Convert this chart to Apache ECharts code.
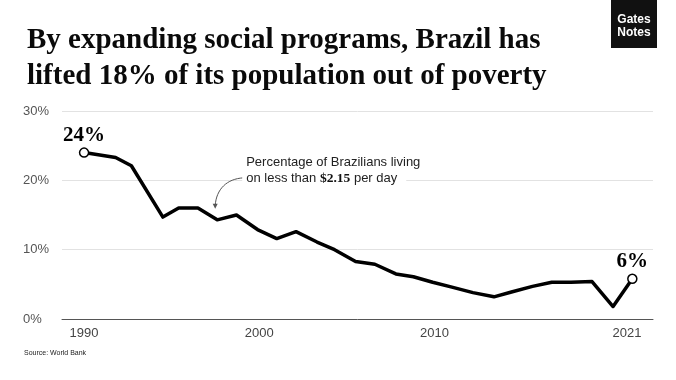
<!DOCTYPE html>
<html>
<head>
<meta charset="utf-8">
<script src="https://cdn.jsdelivr.net/npm/echarts@6/dist/echarts.min.js"></script>
<style>
html,body{margin:0;padding:0;background:#fff;}
#chart{width:676px;height:380px;}
</style>
</head>
<body>
<div id="chart"></div>
<script>
// Observation years (World Bank survey years)
const years = [1990,1992,1993,1995,1996,1997,1998,1999,2001,2002,2003,2004,2005,2006,2007,2008,2009,2011,2012,2013,2014,2015,2016,2017,2018,2019,2020,2021];
const yearPos = [1990.0,1991.8,1992.7,1994.5,1995.4,1996.5,1997.6,1998.7,1999.9,2001.0,2002.1,2003.3,2004.3,2005.5,2006.6,2007.8,2008.8,2009.9,2011.0,2012.2,2013.4,2014.4,2015.6,2016.7,2017.8,2019.0,2020.2,2021.3];
// Share of Brazilians living on less than $2.15 per day (%)
const values = [24.0,23.3,22.1,14.7,16.0,16.0,14.3,15.0,12.9,11.6,12.6,11.1,10.0,8.3,7.9,6.5,6.1,5.3,4.6,3.8,3.2,3.9,4.7,5.3,5.3,5.4,1.8,5.8];
const xTickLabels = [1990, 2000, 2010, 2021];
const yTicks = [0, 10, 20, 30];

const chart = echarts.init(document.getElementById('chart'), null, {renderer:'canvas'});
const last = values.length - 1;
const lineData = yearPos.map((x, i) => [x, values[i]]);
const endData = [[yearPos[0], values[0]], [yearPos[last], values[last]]];

const sans = "'Liberation Sans', Arial, Helvetica, sans-serif";
const serif = "'Liberation Serif', 'Times New Roman', serif";

chart.setOption({
  animation: false,
  backgroundColor: '#fff',
  title: {
    text: 'By expanding social programs, Brazil has\nlifted 18% of its population out of poverty',
    left: 22, top: 18,
    textStyle: {fontFamily: serif, fontWeight: 'bold', fontSize: 29, lineHeight: 36, color: '#0a0a0a'}
  },
  grid: {left: 62, right: 23, top: 111, bottom: 61},
  xAxis: {
    type: 'value', min: 1988.74, max: 2022.48,
    splitLine: {show: false},
    axisLine: {show: true, onZero: true, lineStyle: {color: '#555', width: 1}},
    axisTick: {show: false},
    axisLabel: {customValues: xTickLabels, formatter: v => String(v), color: '#444', fontSize: 13, margin: 8, fontFamily: sans}
  },
  yAxis: {
    type: 'value', min: yTicks[0], max: yTicks[yTicks.length-1], interval: 10,
    axisLine: {show: false}, axisTick: {show: false},
    splitLine: {lineStyle: {color: '#e2e2e2', width: 1}},
    axisLabel: {formatter: '{value}%', align: 'left', margin: 39, color: '#555', fontSize: 13, fontFamily: sans}
  },
  series: [
    {
      type: 'line', data: lineData, symbol: 'none',
      lineStyle: {color: '#000', width: 3.5, join: 'round'},
      z: 2
    },
    {
      type: 'scatter', data: endData, symbol: 'circle', symbolSize: 9,
      itemStyle: {color: '#fff', borderColor: '#000', borderWidth: 1.5, opacity: 1},
      label: {show: true, position: 'top', distance: 1, formatter: p => Math.round(p.value[1]) + '%',
        fontFamily: serif, fontWeight: 'bold', fontSize: 21, color: '#000', opacity: 1},
      emphasis: {disabled: true},
      z: 3
    }
  ]
});

// annotation anchored to the 1997 observation
const anchor = chart.convertToPixel({gridIndex: 0}, [yearPos[6], values[6]]);
const tip = [anchor[0] - 2, anchor[1] - 11];
const start = [tip[0] + 28, tip[1] - 31];

chart.setOption({
  graphic: [
    {type: 'rect', shape: {x: 611, y: 0, width: 46, height: 48}, style: {fill: '#111'}},
    {type: 'text', x: 634, y: 20, style: {text: 'Gates', fill: '#fff', font: "bold 12px 'Liberation Sans Narrow', 'Liberation Sans', Arial", align: 'center', verticalAlign: 'middle'}},
    {type: 'text', x: 634, y: 33, style: {text: 'Notes', fill: '#fff', font: "bold 12px 'Liberation Sans Narrow', 'Liberation Sans', Arial", align: 'center', verticalAlign: 'middle'}},
    {type: 'text', x: 24, y: 353, style: {text: 'Source: World Bank', fill: '#222', font: "7px 'Liberation Sans', Arial", verticalAlign: 'middle'}},
    {type: 'bezierCurve', shape: {x1: start[0], y1: start[1], cpx1: tip[0] + 12, cpy1: start[1] + 1, cpx2: tip[0] + 1, cpy2: tip[1] - 20, x2: tip[0], y2: tip[1] - 3},
      style: {stroke: '#555', lineWidth: 1, fill: null}},
    {type: 'polygon', shape: {points: [[tip[0] - 2.5, tip[1] - 5], [tip[0] + 2.5, tip[1] - 5], [tip[0], tip[1]]]}, style: {fill: '#555'}},
    {type: 'text', x: start[0] - 1, y: 154,
      style: {
        text: '{a|Percentage of Brazilians living}\n{c|on less than }{b|$2.15}{d| per day}',
        rich: {
          a: {fontFamily: sans, fontSize: 13, lineHeight: 16.6, fill: '#222', padding: [0, 0, 0, 4]},
          c: {fontFamily: sans, fontSize: 13, lineHeight: 16.6, fill: '#222', backgroundColor: '#fff', padding: [0, 0, 0, 4]},
          b: {fontFamily: serif, fontWeight: 'bold', fontSize: 13.5, lineHeight: 16.6, fill: '#111', backgroundColor: '#fff'},
          d: {fontFamily: sans, fontSize: 13, lineHeight: 16.6, fill: '#222', backgroundColor: '#fff', padding: [0, 9, 0, 0]}
        }
      }
    }
  ]
});
</script>
</body>
</html>
